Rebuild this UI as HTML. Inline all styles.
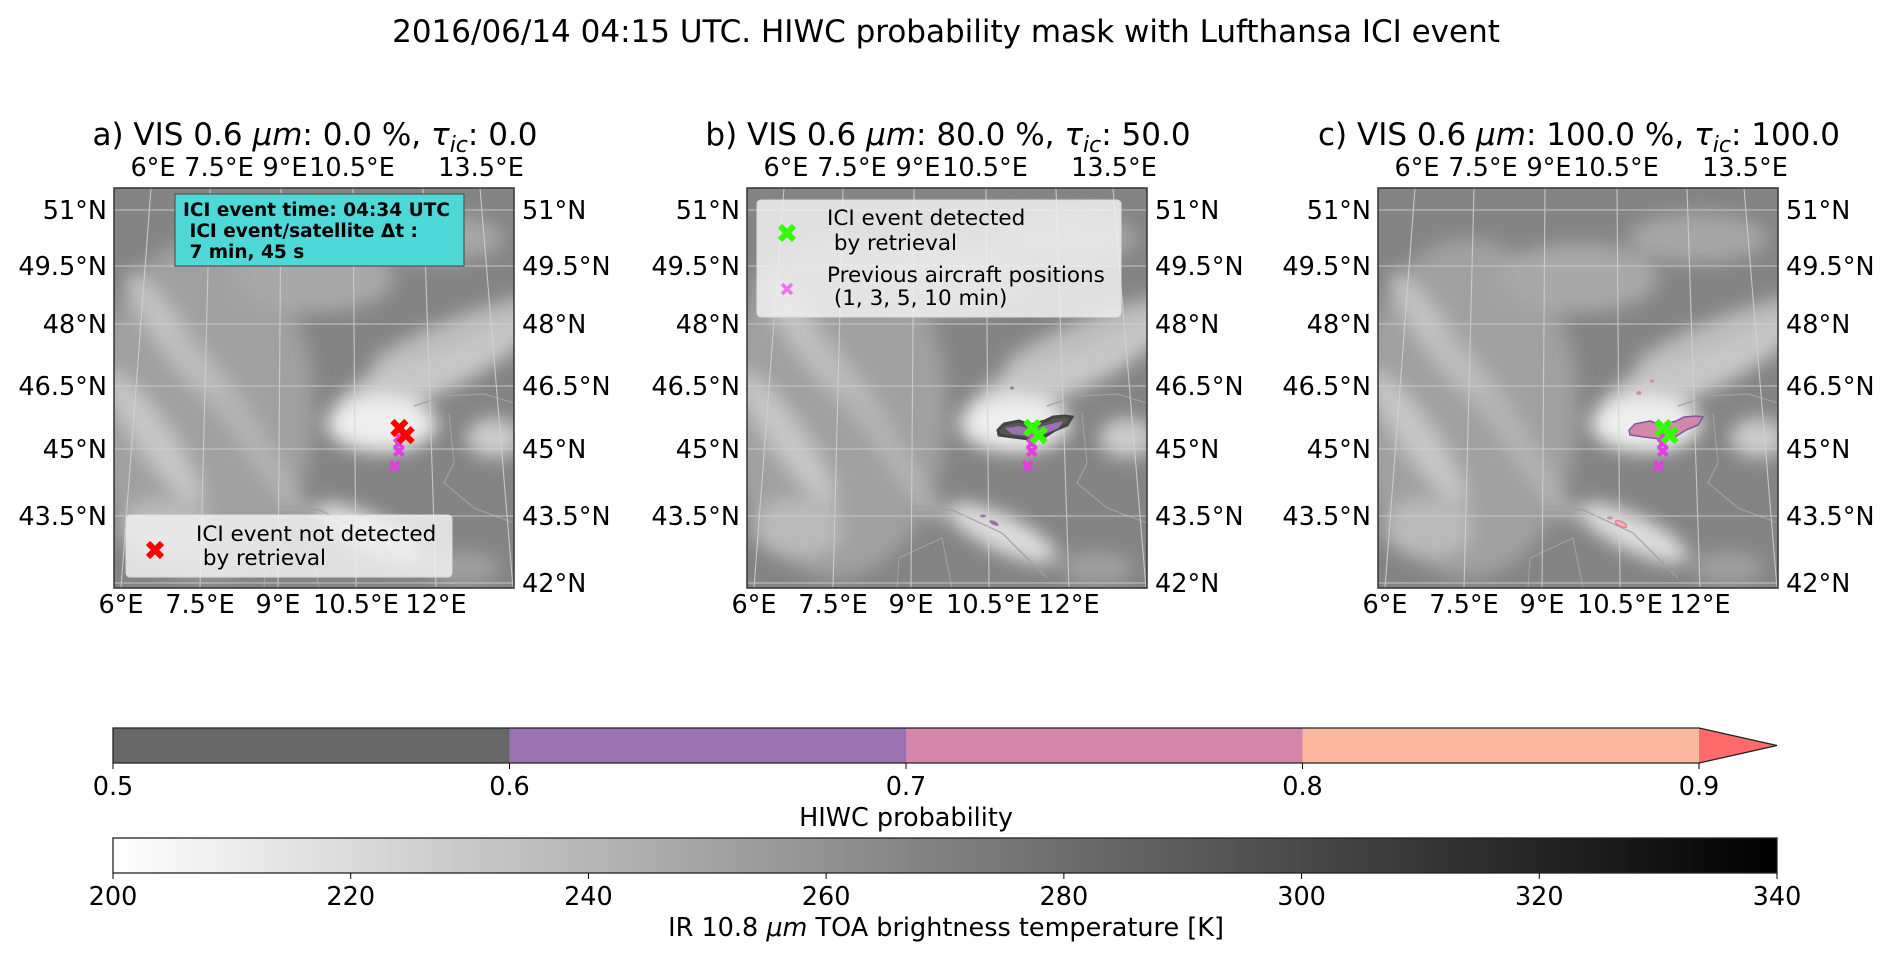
<!DOCTYPE html>
<html><head><meta charset="utf-8">
<style>
html,body{margin:0;padding:0;background:#fff;}
svg{display:block;font-family:"DejaVu Sans","Liberation Sans",sans-serif;}
</style></head>
<body>
<svg id="fig" width="1892" height="962" viewBox="0 0 1892 962" xmlns="http://www.w3.org/2000/svg">
<defs>
  <filter id="blur" x="-20%" y="-20%" width="140%" height="140%"><feGaussianBlur stdDeviation="9"/></filter>
  <clipPath id="frameclip" clipPathUnits="userSpaceOnUse"><rect x="0" y="0" width="400" height="400"/></clipPath>
  <linearGradient id="irgrad" x1="0" x2="1" y1="0" y2="0">
    <stop offset="0" stop-color="#ffffff"/><stop offset="1" stop-color="#000000"/>
  </linearGradient>
  <g id="clouds">
    <rect x="0" y="0" width="400" height="400" fill="#848484"/>
    <g filter="url(#blur)">
      <ellipse cx="90" cy="220" rx="110" ry="170" fill="#a0a0a0"/>
      <ellipse cx="200" cy="90" rx="80" ry="35" fill="#a8a8a8"/>
      <ellipse cx="320" cy="50" rx="70" ry="25" fill="#a6a6a6"/>
      <ellipse cx="60" cy="150" rx="80" ry="16" fill="#c2c2c2" transform="rotate(55 60 150)"/>
      <ellipse cx="110" cy="210" rx="90" ry="14" fill="#bababa" transform="rotate(55 110 210)"/>
      <ellipse cx="40" cy="250" rx="80" ry="18" fill="#c6c6c6" transform="rotate(55 40 250)"/>
      <ellipse cx="150" cy="270" rx="80" ry="12" fill="#b2b2b2" transform="rotate(55 150 270)"/>
      <ellipse cx="50" cy="340" rx="45" ry="30" fill="#bababa"/>
      <ellipse cx="320" cy="180" rx="110" ry="26" fill="#c8c8c8" transform="rotate(-25 320 180)"/>
      <ellipse cx="340" cy="145" rx="90" ry="14" fill="#bdbdbd" transform="rotate(-22 340 145)"/>
      <ellipse cx="268" cy="236" rx="55" ry="28" fill="#eeeeee"/>
      <ellipse cx="380" cy="250" rx="28" ry="20" fill="#cccccc"/>
      <ellipse cx="255" cy="345" rx="60" ry="18" fill="#dedede" transform="rotate(25 255 345)"/>
      <ellipse cx="350" cy="380" rx="35" ry="16" fill="#a0a0a0"/>
    </g>
    <g fill="none" stroke="#a0a0a0" stroke-width="1.2">
      <path d="M120,330 L170,318 L205,322 L255,345 L300,390"/>
      <path d="M300,218 L330,208 L370,206 L400,215"/>
      <path d="M335,225 L340,275 L330,295 L360,320 L400,335"/>
      <path d="M150,400 L152,370 L195,350 L205,400"/>
    </g>
  </g>
</defs>

<text x="946" y="42" font-size="31" text-anchor="middle" fill="#000">2016/06/14 04:15 UTC. HIWC probability mask with Lufthansa ICI event</text>

<g id="panels"></g>
<g id="cbars"></g>

<script>
// ---- data ----
var panelOffsets = [114, 747, 1378];
var panelTop = 188;
var panelTitles = [
  ['a) VIS 0.6 ', ': 0.0 %, ', ': 0.0'],
  ['b) VIS 0.6 ', ': 80.0 %, ', ': 50.0'],
  ['c) VIS 0.6 ', ': 100.0 %, ', ': 100.0']
];
var latTicks = [51, 49.5, 48, 46.5, 45, 43.5, 42];
var latRelY = [22, 78, 136, 198, 261, 328, 395];
var lonTicks = [6, 7.5, 9, 10.5, 12, 13.5];
var lonTopX = [37, 96, 167, 239, 309, 366];
var lonBotX = [7, 86, 164, 242, 322, 399];
var topLonLabels = ['6°E', '7.5°E', '9°E', '10.5°E', '', '13.5°E'];
var topLabelShift = [2, 9, 4, -1, 0, 1];
var botLonLabels = ['6°E', '7.5°E', '9°E', '10.5°E', '12°E', ''];
var eventLon = [11.38, 11.5];
var eventLat = [45.5, 45.33];
var prevLon = [11.37, 11.36, 11.36, 11.27];
var prevLat = [45.28, 45.13, 44.95, 44.62];
var hiwcTicks = [0.5, 0.6, 0.7, 0.8, 0.9];
var hiwcColors = ['#676767', '#9a72b0', '#d487ab', '#fbb89f'];
var irTicks = [200, 220, 240, 260, 280, 300, 320, 340];

var NS = 'http://www.w3.org/2000/svg';
function mk(tag, attrs, parent) {
  var e = document.createElementNS(NS, tag);
  for (var k in attrs) e.setAttribute(k, attrs[k]);
  if (parent) parent.appendChild(e);
  return e;
}
function interp(v, xs, ys) {
  for (var i = 0; i < xs.length - 1; i++) {
    var a = xs[i], b = xs[i + 1];
    if ((v <= a && v >= b) || (v >= a && v <= b) || i === xs.length - 2) {
      return ys[i] + (v - a) / (b - a) * (ys[i + 1] - ys[i]);
    }
  }
}
function projY(lat) { return interp(lat, latTicks, latRelY); }
function projX(lon, y) {
  var t = y / 400;
  var xs = lonTicks.map(function (l, i) { return lonTopX[i] + (lonBotX[i] - lonTopX[i]) * t; });
  return interp(lon, lonTicks, xs);
}
function xMarker(g, cx, cy, s, w, color) {
  mk('path', { d: 'M' + (cx - s) + ',' + (cy - s) + 'L' + (cx + s) + ',' + (cy + s) + 'M' + (cx - s) + ',' + (cy + s) + 'L' + (cx + s) + ',' + (cy - s), stroke: color, 'stroke-width': w, fill: 'none' }, g);
}
function maskPath(dx, dy) {
  var pts = [[251,242],[257,236],[272,233],[284,237],[298,233],[306,229],[318,228],[325,229],[320,237],[308,242],[297,249],[282,251],[266,249],[252,247]];
  return 'M' + pts.map(function (p) { return (p[0] + dx) + ',' + (p[1] + dy); }).join('L') + 'Z';
}

var panelsG = document.getElementById('panels');
for (var p = 0; p < 3; p++) {
  var ox = panelOffsets[p];
  var pg = mk('g', { transform: 'translate(' + ox + ',' + panelTop + ')' }, panelsG);
  
  

  var t = mk('text', { x: 201, y: -43, 'font-size': 31, 'text-anchor': 'middle' }, pg);
  
  
  var s1 = mk('tspan', {}, t); s1.textContent = panelTitles[p][0];
  var s2 = mk('tspan', { 'font-style': 'italic' }, t); s2.textContent = 'μm';
  var s3 = mk('tspan', {}, t); s3.textContent = panelTitles[p][1];
  var s4 = mk('tspan', { 'font-style': 'italic' }, t); s4.textContent = 'τ';
  var s5 = mk('tspan', { 'font-style': 'italic', 'font-size': 22, dy: 7 }, t); s5.textContent = 'ic';
  var s6 = mk('tspan', { dy: -7 }, t); s6.textContent = panelTitles[p][2];

  var cg = mk('g', { 'clip-path': 'url(#frameclip)' }, pg);
  
  
  mk('use', { href: '#clouds' }, cg);

  var gg = mk('g', { stroke: '#d2d2d2', 'stroke-width': 1.1, fill: 'none', opacity: 0.85 }, cg);
  
  
  latTicks.forEach(function (lat) {
    var y = projY(lat);
    mk('line', { x1: 0, x2: 400, y1: y, y2: y }, gg);
  });
  lonTicks.forEach(function (lon, i) {
    mk('line', { x1: lonTopX[i], y1: 0, x2: lonBotX[i], y2: 400 }, gg);
  });

  if (p > 0) {
    var mg = mk('g', {}, cg);
    
    
    if (p === 1) {
      mk('path', { d: maskPath(0, 0), fill: '#555', stroke: '#444', 'stroke-width': 3 }, mg);
      mk('path', { d: 'M258,240L272,238L284,241L300,237L316,233L312,240L298,246L282,248L265,246Z', fill: '#9a72b0' }, mg);
      mk('ellipse', { cx: 247, cy: 335, rx: 5, ry: 2, fill: '#9a72b0', transform: 'rotate(25 247 335)' }, mg);
      mk('ellipse', { cx: 236, cy: 328, rx: 3, ry: 1.5, fill: '#9a72b0' }, mg);
      mk('ellipse', { cx: 265, cy: 200, rx: 2, ry: 1.5, fill: '#9a72b0' }, mg);
    } else {
      mk('path', { d: maskPath(0, 0), fill: '#d487ab', stroke: '#7b5aa0', 'stroke-width': 1.5 }, mg);
      mk('ellipse', { cx: 243, cy: 336, rx: 6, ry: 2.5, fill: '#fbb89f', stroke: '#d487ab', 'stroke-width': 1.5, transform: 'rotate(25 243 336)' }, mg);
      mk('ellipse', { cx: 232, cy: 330, rx: 3, ry: 1.5, fill: '#d487ab' }, mg);
      mk('ellipse', { cx: 261, cy: 205, rx: 2.5, ry: 2, fill: '#d487ab' }, mg);
      mk('ellipse', { cx: 274, cy: 193, rx: 2, ry: 1.5, fill: '#d487ab' }, mg);
    }
  }

  var mkg = mk('g', {}, pg);
  
  
  prevLon.forEach(function (lon, i) {
    var y = projY(prevLat[i]);
    xMarker(mkg, projX(lon, y), y, 4.5, 4, '#e040e0');
  });
  var evColor = p === 0 ? '#ff0000' : '#33ff00';
  eventLon.forEach(function (lon, i) {
    var y = projY(eventLat[i]);
    xMarker(mkg, projX(lon, y), y, 7, 6, evColor);
  });

  var fr = mk('rect', { x: 0, y: 0, width: 400, height: 400, fill: 'none', stroke: '#333', 'stroke-width': 1.5 }, pg);
  
  

  latTicks.forEach(function (lat, i) {
    var y = latRelY[i] + 9;
    var lbl = lat + '°N';
    if (i < latTicks.length - 1) {
      var tl = mk('text', { x: -7, y: y, 'font-size': 25.5, 'text-anchor': 'end' }, pg);
      tl.textContent = lbl;
      
      
    }
    var tr = mk('text', { x: 408, y: y, 'font-size': 25.5 }, pg);
    tr.textContent = lbl;
    
    
  });
  lonTicks.forEach(function (lon, i) {
    if (topLonLabels[i]) {
      var tt = mk('text', { x: lonTopX[i] + topLabelShift[i], y: -12, 'font-size': 25.5, 'text-anchor': 'middle' }, pg);
      tt.textContent = topLonLabels[i];
      
      
    }
    if (botLonLabels[i]) {
      var tb = mk('text', { x: lonBotX[i], y: 425, 'font-size': 25.5, 'text-anchor': 'middle' }, pg);
      tb.textContent = botLonLabels[i];
      
      
    }
  });

  if (p === 0) {
    var ib = mk('g', {}, pg);
    
    
    mk('rect', { x: 61, y: 6, width: 289, height: 72, fill: '#4fd8d8', stroke: '#555', 'stroke-width': 1.2 }, ib);
    var lines = ['ICI event time: 04:34 UTC', '\u00a0ICI event/satellite Δt :', '\u00a07 min, 45 s'];
    lines.forEach(function (L, i) {
      var tx = mk('text', { x: 69, y: 28 + i * 21, 'font-size': 18.5, 'font-weight': 'bold' }, ib);
      tx.textContent = L;
    });
    var lg = mk('g', {}, pg);
    
    
    mk('rect', { x: 12, y: 327, width: 326, height: 62, rx: 4, fill: '#f0f0f0', 'fill-opacity': 0.85, stroke: '#ddd' }, lg);
    xMarker(lg, 41, 362, 7, 6, '#ff0000');
    var l1 = mk('text', { x: 82, y: 353, 'font-size': 21.5 }, lg); l1.textContent = 'ICI event not detected';
    var l2 = mk('text', { x: 82, y: 377, 'font-size': 21.5 }, lg); l2.textContent = '\u00a0by retrieval';
  } else if (p === 1) {
    var lg2 = mk('g', {}, pg);
    
    
    mk('rect', { x: 10, y: 12, width: 364, height: 117, rx: 4, fill: '#f0f0f0', 'fill-opacity': 0.85, stroke: '#ddd' }, lg2);
    xMarker(lg2, 40, 45, 7, 6, '#33ff00');
    xMarker(lg2, 40, 101, 5, 3.5, '#f070f0');
    var texts = [['ICI event detected', 80, 37], ['\u00a0by retrieval', 80, 62], ['Previous aircraft positions', 80, 94], ['\u00a0(1, 3, 5, 10 min)', 80, 117]];
    texts.forEach(function (T) {
      var tx = mk('text', { x: T[1], y: T[2], 'font-size': 21.5 }, lg2);
      tx.textContent = T[0];
    });
  }
}

// ---- colorbars ----
var cb = document.getElementById('cbars');
var cbX0 = 113, cbX1 = 1699, cbTip = 1777;
var hg = mk('g', {}, cb);


function hx(v) { return cbX0 + (v - hiwcTicks[0]) / (hiwcTicks[hiwcTicks.length - 1] - hiwcTicks[0]) * (cbX1 - cbX0); }
hiwcColors.forEach(function (c, i) {
  mk('rect', { x: hx(hiwcTicks[i]), y: 728, width: hx(hiwcTicks[i + 1]) - hx(hiwcTicks[i]), height: 35, fill: c }, hg);
});
mk('path', { d: 'M' + cbX1 + ',728L' + cbTip + ',745.5L' + cbX1 + ',763Z', fill: '#ff6a6a' }, hg);
mk('path', { d: 'M' + cbX1 + ',728L' + cbTip + ',745.5L' + cbX1 + ',763L' + cbX0 + ',763L' + cbX0 + ',728Z', fill: 'none', stroke: '#222', 'stroke-width': 1.3 }, hg);
hiwcTicks.forEach(function (v) {
  mk('line', { x1: hx(v), x2: hx(v), y1: 763, y2: 769, stroke: '#000', 'stroke-width': 1 }, hg);
  var tt = mk('text', { x: hx(v), y: 795, 'font-size': 25.5, 'text-anchor': 'middle' }, hg);
  tt.textContent = v.toFixed(1);
  
  
});
var hl = mk('text', { x: 906, y: 826, 'font-size': 25.5, 'text-anchor': 'middle' }, hg);
hl.textContent = 'HIWC probability';



var ig = mk('g', {}, cb);


var irX1 = 1777;
function ix(v) { return cbX0 + (v - irTicks[0]) / (irTicks[irTicks.length - 1] - irTicks[0]) * (irX1 - cbX0); }
mk('rect', { x: cbX0, y: 838, width: irX1 - cbX0, height: 35, fill: 'url(#irgrad)', stroke: '#222', 'stroke-width': 1.3 }, ig);
irTicks.forEach(function (v) {
  mk('line', { x1: ix(v), x2: ix(v), y1: 873, y2: 879, stroke: '#000', 'stroke-width': 1 }, ig);
  var tt = mk('text', { x: ix(v), y: 905, 'font-size': 25.5, 'text-anchor': 'middle' }, ig);
  tt.textContent = v;
  
  
});
var il = mk('text', { x: 946, y: 936, 'font-size': 25.5, 'text-anchor': 'middle' }, ig);


var a1 = mk('tspan', {}, il); a1.textContent = 'IR 10.8 ';
var a2 = mk('tspan', { 'font-style': 'italic' }, il); a2.textContent = 'μm';
var a3 = mk('tspan', {}, il); a3.textContent = ' TOA brightness temperature [K]';
</script>
</svg>
</body></html>
